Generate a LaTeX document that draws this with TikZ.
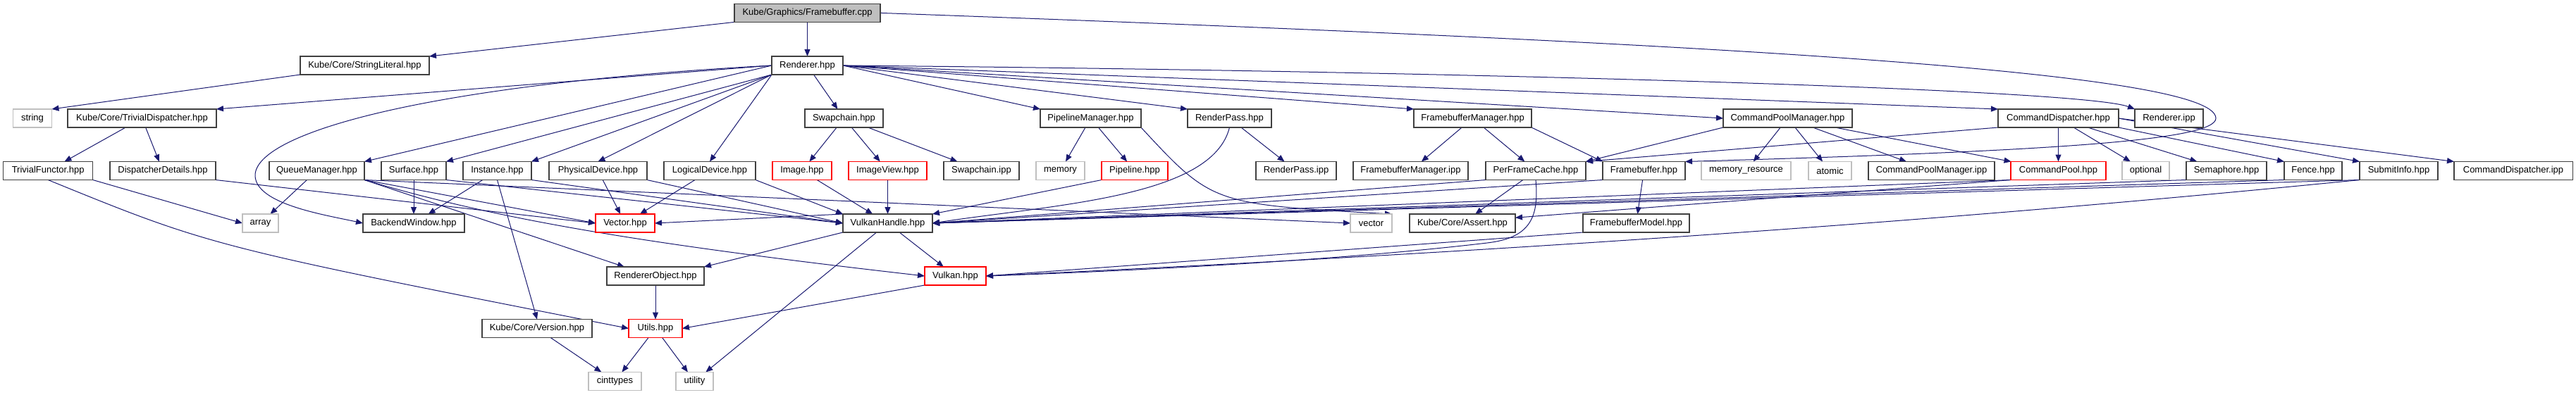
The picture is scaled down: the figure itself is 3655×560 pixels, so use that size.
\documentclass[tikz,border=0pt]{standalone}
\usepackage{fontspec}
\setmainfont{Liberation Sans}
\usetikzlibrary{arrows.meta,calc}
\definecolor{edgecol}{RGB}{25,25,112}
\definecolor{grayb}{RGB}{191,191,191}
\definecolor{redb}{RGB}{255,0,0}
\definecolor{boxb}{RGB}{64,64,64}
\pgfdeclarelayer{bg}
\pgfsetlayers{bg,main}
\begin{document}
\begin{tikzpicture}[x=1pt,y=-1pt,
 box/.style={draw=boxb, fill=white, line width=1.1pt, minimum height=26pt, inner sep=0pt, outer sep=0pt, font=\fontsize{13}{15}\selectfont},
 redbox/.style={box, draw=redb},
 graybox/.style={box, draw=grayb},
 rootbox/.style={box, fill=grayb},
 dep/.style={draw=edgecol, line width=1pt, -{Triangle[length=10pt,width=8pt]}}]
\useasboundingbox (0,0) rectangle (3655,560);
% row 0/1
\node[rootbox, minimum width=207pt] (cpp) at (1145.5,18.4) {Kube/Graphics/Framebuffer.cpp};
\node[box, minimum width=183pt] (strlit) at (517.5,93) {Kube/Core/StringLiteral.hpp};
\node[box, minimum width=101pt] (renderer) at (1145.5,93) {Renderer.hpp};
% row 2
\node[graybox, minimum width=55pt] (string) at (46,168) {string};
\node[box, minimum width=211pt] (trivdisp) at (201.5,168) {Kube/Core/TrivialDispatcher.hpp};
\node[box, minimum width=111pt] (swapchain) at (1197.5,168) {Swapchain.hpp};
\node[box, minimum width=143pt] (pipemgr) at (1547.5,168) {PipelineManager.hpp};
\node[box, minimum width=119pt] (renderpass) at (1744.5,168) {RenderPass.hpp};
\node[box, minimum width=167pt] (fbmgr) at (2089.5,168) {FramebufferManager.hpp};
\node[box, minimum width=183pt] (cpmgr) at (2536.5,168) {CommandPoolManager.hpp};
\node[box, minimum width=171pt] (cmddisp) at (2920.5,168) {CommandDispatcher.hpp};
\node[box, minimum width=97pt] (rendipp) at (3077.5,168) {Renderer.ipp};
% row 3
\node[box, minimum width=127pt] (trivfunc) at (68.2,242.5) {TrivialFunctor.hpp};
\node[box, minimum width=150pt] (dispdet) at (231,242.5) {DispatcherDetails.hpp};
\node[box, minimum width=135pt] (queuemgr) at (449.5,242.5) {QueueManager.hpp};
\node[box, minimum width=92pt] (surface) at (587,242.5) {Surface.hpp};
\node[box, minimum width=97pt] (instance) at (705.5,242.5) {Instance.hpp};
\node[box, minimum width=139pt] (physdev) at (848.5,242.5) {PhysicalDevice.hpp};
\node[box, minimum width=130pt] (logdev) at (1007,242.5) {LogicalDevice.hpp};
\node[redbox, minimum width=84pt] (image) at (1138,242.5) {Image.hpp};
\node[redbox, minimum width=111pt] (imageview) at (1259.5,242.5) {ImageView.hpp};
\node[box, minimum width=107pt] (swipp) at (1392.5,242.5) {Swapchain.ipp};
\node[graybox, minimum width=69pt] (memory) at (1504.5,242.5) {memory};
\node[redbox, minimum width=94pt] (pipeline) at (1610,242.5) {Pipeline.hpp};
\node[box, minimum width=114pt] (rpipp) at (1839,242.5) {RenderPass.ipp};
\node[box, minimum width=163pt] (fbmipp) at (2001.5,242.5) {FramebufferManager.ipp};
\node[box, minimum width=142pt] (pfc) at (2179,242.5) {PerFrameCache.hpp};
\node[box, minimum width=117pt] (fbhpp) at (2332.5,242.5) {Framebuffer.hpp};
\node[graybox, minimum width=127pt] (memres) at (2477.5,242.5) {memory\_resource};
\node[graybox, minimum width=61pt] (atomic) at (2596.5,242.5) {atomic};
\node[box, minimum width=179pt] (cpmipp) at (2740.5,242.5) {CommandPoolManager.ipp};
\node[redbox, minimum width=135pt] (cmdpool) at (2920.5,242.5) {CommandPool.hpp};
\node[graybox, minimum width=67pt] (optional) at (3044.5,242.5) {optional};
\node[box, minimum width=114pt] (semaphore) at (3159,242.5) {Semaphore.hpp};
\node[box, minimum width=82pt] (fence) at (3282,242.5) {Fence.hpp};
\node[box, minimum width=111pt] (submit) at (3403.5,242.5) {SubmitInfo.hpp};
\node[box, minimum width=168pt] (cdipp) at (3566,242.5) {CommandDispatcher.ipp};
% row 4
\node[graybox, minimum width=51pt] (array) at (369.5,317) {array};
\node[box, minimum width=144pt] (backend) at (587,317) {BackendWindow.hpp};
\node[redbox, minimum width=84pt] (vectorh) at (887,317) {Vector.hpp};
\node[box, minimum width=127pt] (vkhandle) at (1259.5,317) {VulkanHandle.hpp};
\node[graybox, minimum width=59pt] (vector) at (1945.5,317) {vector};
\node[box, minimum width=150pt] (assert) at (2075,317) {Kube/Core/Assert.hpp};
\node[box, minimum width=151pt] (fbmodel) at (2321.5,317) {FramebufferModel.hpp};
% row 5-7
\node[box, minimum width=138pt] (rendobj) at (930,392) {RendererObject.hpp};
\node[redbox, minimum width=87pt] (vulkan) at (1355.5,392) {Vulkan.hpp};
\node[box, minimum width=156pt] (version) at (762,466.5) {Kube/Core/Version.hpp};
\node[redbox, minimum width=76pt] (utils) at (930,466.5) {Utils.hpp};
\node[graybox, minimum width=75pt] (cinttypes) at (872.5,541.5) {cinttypes};
\node[graybox, minimum width=53pt] (utility) at (985.5,541.5) {utility};

\begin{pgfonlayer}{bg}
\fill[white] (0,0) rectangle (3655,560);
% root
\draw[dep] (cpp.south west) -- (strlit.north east);
\draw[dep] (cpp) -- (renderer);
\draw[dep] (cpp.east) .. controls (2400,60) and (3144,100) .. (3144,168) .. controls (3144,200) and (2900,215) .. (fbhpp.north east);
\draw[dep] (strlit.south west) -- (string.north east);
% Renderer.hpp
\draw[dep] (renderer.west) -- (trivdisp.north east);
\draw[dep] (renderer.west) .. controls (600,120) and (360,190) .. (362,250) .. controls (364,290) and (460,305) .. (backend.west);
\draw[dep] (renderer.west) -- (queuemgr.north east);
\draw[dep] (renderer.south west) -- (surface.north east);
\draw[dep] (renderer.south west) -- (instance.north east);
\draw[dep] (renderer.south west) -- (physdev.north);
\draw[dep] (renderer.south west) -- (logdev.north);
\draw[dep] (renderer) -- (swapchain);
\draw[dep] (renderer.east) -- (pipemgr.north west);
\draw[dep] (renderer.east) -- (renderpass.north west);
\draw[dep] (renderer.east) -- (fbmgr.north west);
\draw[dep] (renderer.east) -- (cpmgr.west);
\draw[dep] (renderer.east) -- (cmddisp.north west);
\draw[dep] (renderer.east) .. controls (2000,100) and (2950,125) .. (rendipp.north west);
% left part
\draw[dep] (trivdisp) -- (trivfunc);
\draw[dep] (trivdisp) -- (dispdet);
\draw[dep] (trivfunc.south east) -- (array.west);
\draw[dep] (trivfunc.south) .. controls (300,350) .. (utils.west);
\draw[dep] (dispdet.south east) -- (vectorh.west);
\draw[dep] (queuemgr) -- (array);
\draw[dep] (queuemgr.south east) -- (vectorh.west);
\draw[dep] (queuemgr.south east) -- ($(rendobj.north west)+(25,0)$);
\draw[dep] (queuemgr.south east) .. controls (700,310) and (900,345) .. (vulkan.west);
\draw[dep] (queuemgr.south east) -- (vector.west);
\draw[dep] (surface) -- (backend);
\draw[dep] (surface.south east) -- (vkhandle.west);
\draw[dep] (instance) -- (backend);
\draw[dep] (instance.south) -- (version.north);
\draw[dep] (instance.south east) -- (vkhandle.west);
\draw[dep] (physdev) -- (vectorh);
\draw[dep] (physdev.south east) -- (vkhandle.west);
\draw[dep] (logdev) -- (vectorh);
\draw[dep] (logdev.south east) -- (vkhandle.north west);
% swapchain, pipeline, renderpass
\draw[dep] (swapchain) -- (image);
\draw[dep] (swapchain) -- (imageview);
\draw[dep] (swapchain) -- (swipp);
\draw[dep] (image) -- (vkhandle);
\draw[dep] (imageview) -- (vkhandle);
\draw[dep] (pipemgr) -- (memory);
\draw[dep] (pipemgr) -- (pipeline);
\draw[dep] (pipemgr.south east) .. controls (1720,290) .. (vector.north east);
\draw[dep] (pipeline.south west) -- (vkhandle.north east);
\draw[dep] (renderpass) -- (rpipp);
\draw[dep] (renderpass.south) .. controls (1720,280) and (1500,290) .. (vkhandle.east);
% framebuffer manager
\draw[dep] (fbmgr) -- (fbmipp);
\draw[dep] (fbmgr) -- (pfc);
\draw[dep] (fbmgr.south east) -- (fbhpp.north west);
\draw[dep] (pfc) -- (assert);
\draw[dep] (pfc.south) .. controls (2184,310) and (2170,338) .. (2110,345) .. controls (1900,370) and (1600,385) .. (vulkan.east);
\draw[dep] (pfc.south west) -- (vkhandle.east);
\draw[dep] (fbhpp) -- (fbmodel);
\draw[dep] (fbhpp.south west) -- (vkhandle.east);
\draw[dep] (fbmodel.south west) -- (vulkan.east);
% command pool manager / dispatcher
\draw[dep] (cpmgr) -- (memres);
\draw[dep] (cpmgr) -- (atomic);
\draw[dep] (cpmgr) -- (cpmipp);
\draw[dep] (cpmgr) -- (cmdpool);
\draw[dep] (cpmgr.south west) -- (pfc.north east);
\draw[dep] (cmddisp.south west) -- (pfc.north east);
\draw[dep] (cmddisp) -- (cmdpool);
\draw[dep] (cmddisp) -- (optional);
\draw[dep] (cmddisp) -- (semaphore);
\draw[dep] (cmddisp.south east) -- (fence.north west);
\draw[dep] (cmddisp.east) -- (submit.north west);
\draw[dep] (cmddisp.east) -- (cdipp.north west);
\draw[dep] (cmdpool.south west) -- (vkhandle.east);
\draw[dep] (cmdpool.south west) -- ($(assert.north east)!0.2!(assert.south east)$);
\draw[dep] (semaphore.south west) -- (vkhandle.east);
\draw[dep] (fence.south west) -- (vkhandle.east);
\draw[dep] (submit.south west) -- (vkhandle.east);
\draw[dep] (submit.south west) .. controls (2900,300) and (2300,350) .. (vulkan.east);
% lower part
\draw[dep] (vkhandle.north west) -- (vectorh.east);
\draw[dep] (vkhandle.south west) -- (rendobj.north east);
\draw[dep] (vkhandle) -- (vulkan);
\draw[dep] (vkhandle) -- (utility);
\draw[dep] (rendobj) -- (utils);
\draw[dep] (vulkan.south west) -- (utils.east);
\draw[dep] (utils) -- (cinttypes);
\draw[dep] (utils) -- (utility);
\draw[dep] (version) -- (cinttypes);
\end{pgfonlayer}
\end{tikzpicture}
\end{document}
